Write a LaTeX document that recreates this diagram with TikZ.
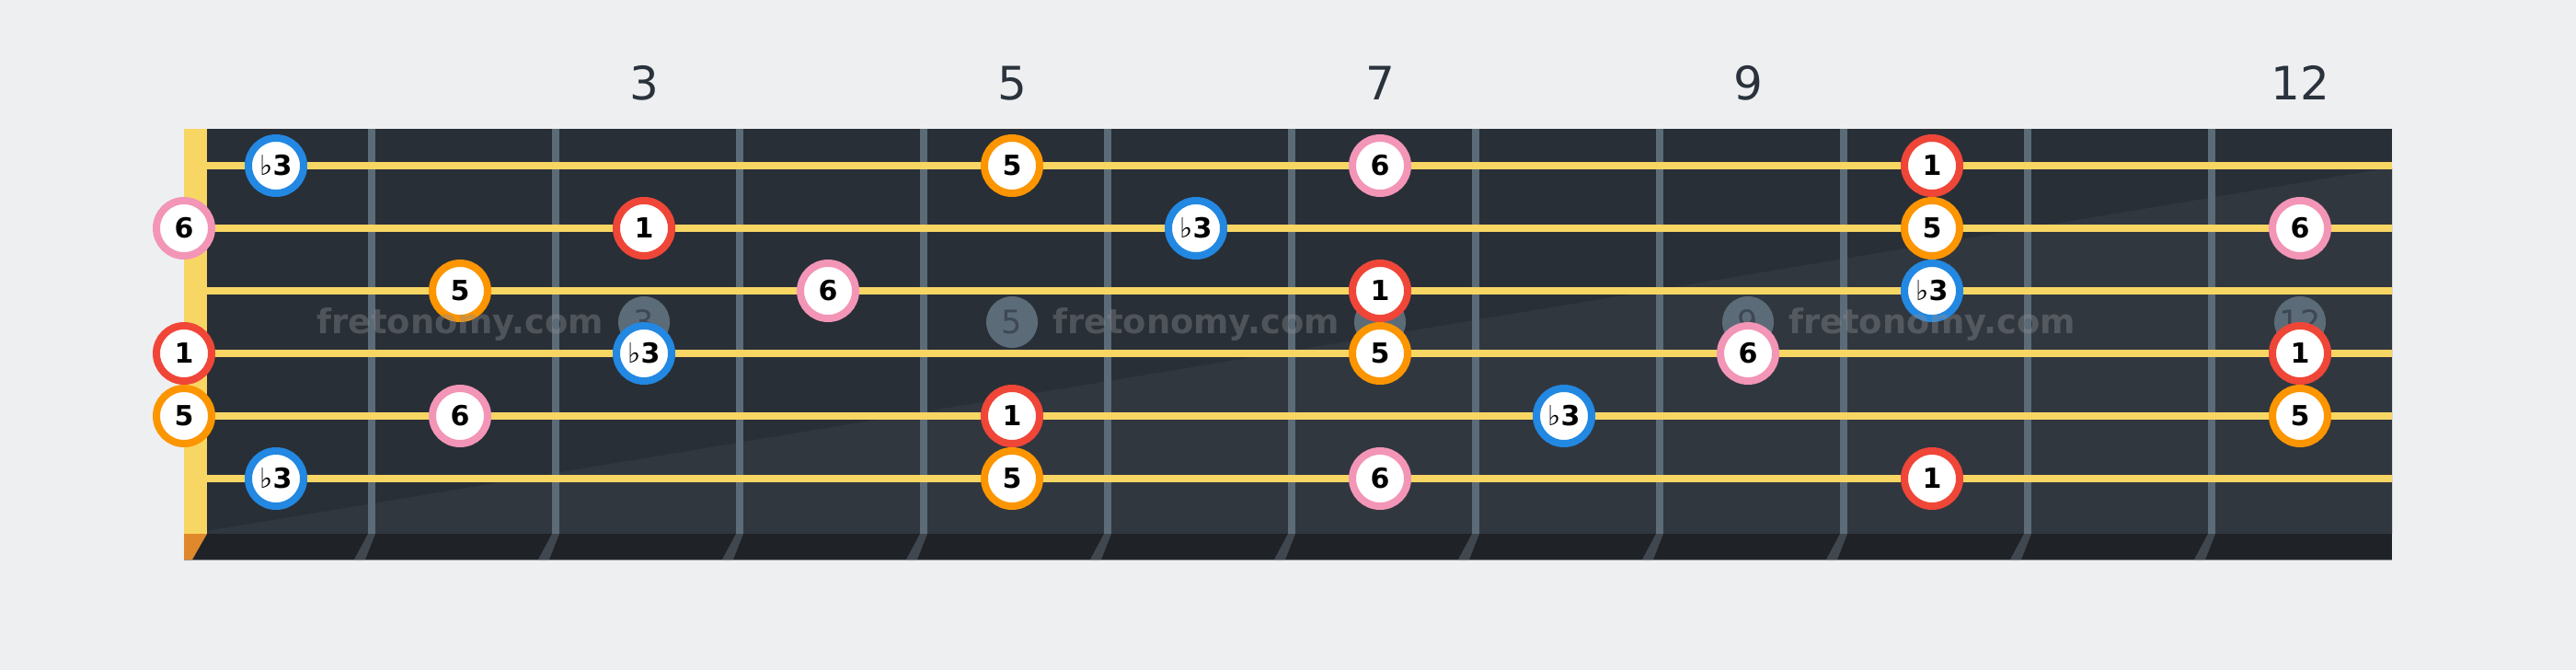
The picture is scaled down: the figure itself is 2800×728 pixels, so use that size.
\documentclass[tikz,border=0pt]{standalone}
\usepackage{fontspec}
\setmainfont{DejaVu Sans}
\usetikzlibrary{calc}
\definecolor{bg}{HTML}{EEEFF1}
\definecolor{board}{HTML}{292F37}
\definecolor{boardlight}{HTML}{31373F}
\definecolor{boardedge}{HTML}{1F2327}
\definecolor{fretc}{HTML}{5B6B78}
\definecolor{fretshade}{HTML}{41474E}
\definecolor{strc}{HTML}{F8D664}
\definecolor{nutshade}{HTML}{E0892C}
\definecolor{cRoot}{HTML}{EF4638}
\definecolor{cFifth}{HTML}{FC9500}
\definecolor{cSixth}{HTML}{F395B6}
\definecolor{cThird}{HTML}{2288E2}
\definecolor{numc}{HTML}{2A323C}
\definecolor{markc}{HTML}{5B6B78}
\definecolor{marktext}{HTML}{3E4853}
\definecolor{wmc}{HTML}{8A8C90}
\newcommand\flatsym{{\mdseries ♭}}
\newcommand\dgR{1}
\newcommand\dgF{5}
\newcommand\dgS{6}
\newcommand\dgT{\flatsym3}
\begin{document}
\begin{tikzpicture}[x=1pt,y=-1pt,
  note/.style={circle, fill=white, line width=8pt, minimum size=60pt, inner sep=0pt,
    text height=21.9pt, text depth=0pt, font=\fontsize{30}{36}\selectfont\bfseries},
  degR/.style={draw=cRoot}, degF/.style={draw=cFifth},
  degS/.style={draw=cSixth}, degT/.style={draw=cThird},
  marker/.style={circle, fill=markc, minimum size=56pt, inner sep=0pt, text=marktext,
    text height=25.5pt, text depth=0pt, font=\fontsize{35}{40}\selectfont},
  fretnum/.style={anchor=base, text=numc, font=\fontsize{50}{60}\selectfont},
  watermark/.style={anchor=base, text=wmc, text opacity=0.4, font=\fontsize{36.8}{40}\selectfont\bfseries},
  stringline/.style={draw=strc, line width=8pt},
  fretwire/.style={draw=fretc, line width=8pt}]
\useasboundingbox (0,0) rectangle (2800,728);
\fill[bg] (0,0) rectangle (2800,728);
% board
\fill[board] (225,140) rectangle (2600,580);
\fill[boardlight] (225,577) -- (2600,182) -- (2600,580) -- (225,580) -- cycle;
\fill[boardedge] (200,580) rectangle (2600,608);
\draw[line width=1pt, draw=fretc!70!white] (200,608) -- (2600,608);
\fill[nutshade] (200,580) -- (225,580) -- (209,608) -- (200,608) -- cycle;
\fill[strc] (200,140) rectangle (225,580);
% frets
\foreach \n in {1,...,11}{
  \pgfmathsetmacro\fx{200*\n+204}
  \coordinate (ft\n) at (\fx,140);
  \coordinate (fb\n) at (\fx,580);
  \draw[fretwire] (ft\n) -- (fb\n);
  \fill[fretshade] ($(fb\n)+(-4,0)$) -- ($(fb\n)+(4,0)$) -- ($(fb\n)+(-7,28)$) -- ($(fb\n)+(-19,28)$) -- cycle;
}
% strings
\foreach \s in {1,...,6}{
  \pgfmathsetmacro\sy{180+68*(\s-1)}
  \coordinate (sl\s) at (225,\sy);
  \coordinate (sr\s) at (2600,\sy);
  \draw[stringline] (sl\s) -- (sr\s);
}
% fret numbers
\foreach \f in {3,5,7,9,12}{
  \pgfmathsetmacro\xx{100+200*\f}
  \node[fretnum] (num\f) at (\xx,108) {\f};
  \node[marker] (mk\f) at (\xx,350) {\f};
}
% notes
\foreach \s/\f/\d in {1/1/T,1/5/F,1/7/S,1/10/R,
  2/0/S,2/3/R,2/6/T,2/10/F,2/12/S,
  3/2/F,3/4/S,3/7/R,3/10/T,
  4/0/R,4/3/T,4/7/F,4/9/S,4/12/R,
  5/0/F,5/2/S,5/5/R,5/8/T,5/12/F,
  6/1/T,6/5/F,6/7/S,6/10/R}{
  \pgfmathsetmacro\xx{ifthenelse(\f==0,200,100+200*\f)}
  \pgfmathsetmacro\yy{180+68*(\s-1)}
  \node[note, deg\d] (n\s-\f) at (\xx,\yy) {\csname dg\d\endcsname};
}
% watermarks
\node[watermark] (wm1) at (500,362) {fretonomy.com};
\node[watermark] (wm2) at (1300,362) {fretonomy.com};
\node[watermark] (wm3) at (2100,362) {fretonomy.com};
\end{tikzpicture}
\end{document}
